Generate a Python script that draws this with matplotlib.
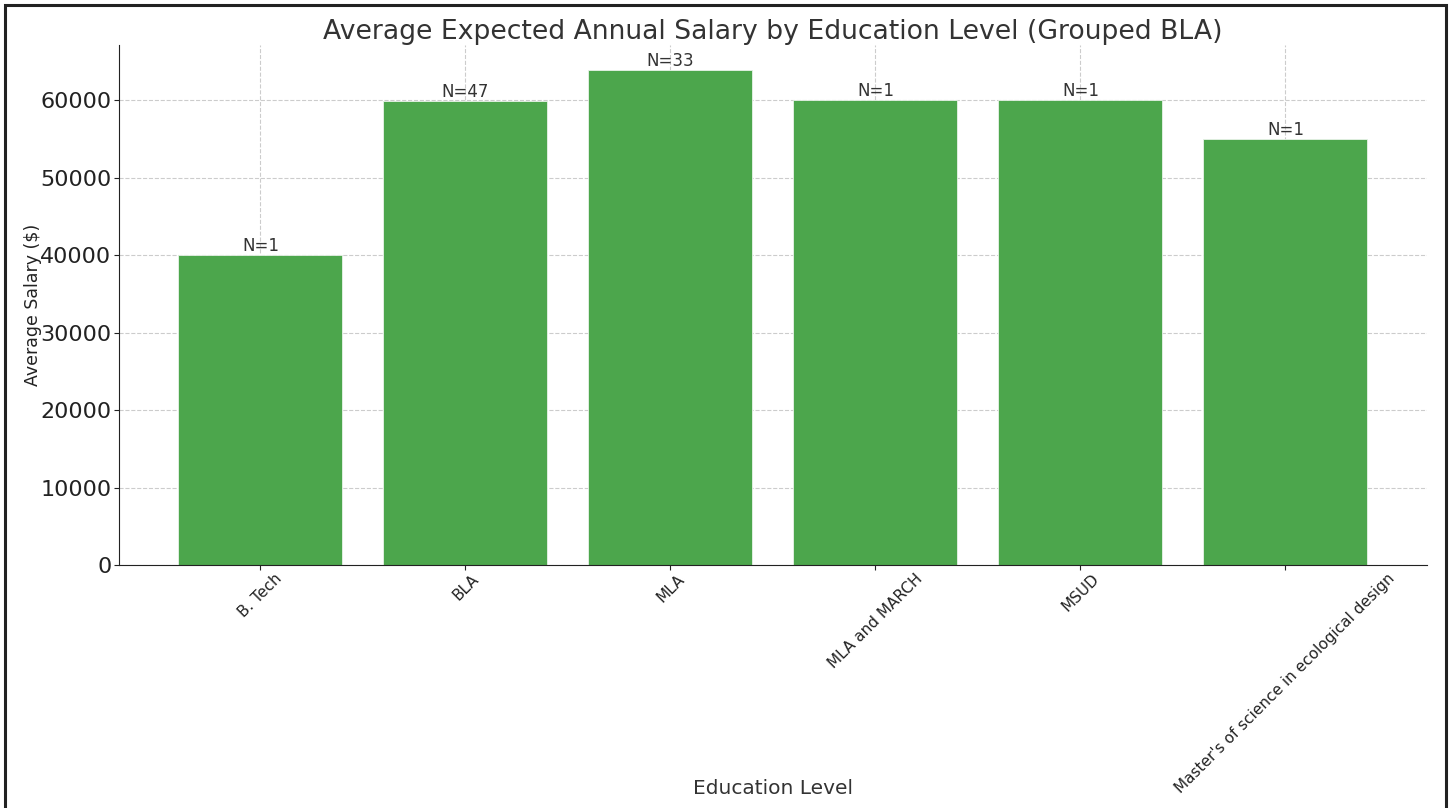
import matplotlib
matplotlib.use("Agg")
import matplotlib.pyplot as plt
from matplotlib.patches import Rectangle

categories = ["B. Tech", "BLA", "MLA", "MLA and MARCH", "MSUD",
              "Master's of science in ecological design"]
salaries = [40000, 59850, 63900, 60000, 60000, 55000]
counts = [1, 47, 33, 1, 1, 1]

fig = plt.figure(figsize=(14.5, 8.08), dpi=100)
ax = fig.add_axes([0.0821, 0.3007, 0.902, 0.6436])

text_color = "#333333"
bars = ax.bar(range(len(categories)), salaries, width=0.8, color="#4CA64C",
              edgecolor="#E8F3E8", linewidth=0.6, zorder=2)
for b, n in zip(bars, counts):
    ax.text(b.get_x() + b.get_width() / 2, b.get_height(), f"N={n}",
            ha="center", va="bottom", fontsize=12, color=text_color, zorder=3)

ax.set_xticks(range(len(categories)))
ax.set_xticklabels(categories, rotation=45, ha="center", fontsize=11,
                   color="#222222", rotation_mode="default")
ax.tick_params(axis="y", labelsize=16, colors="#222222", pad=2)
ax.tick_params(axis="x", colors="#222222", pad=1)
ax.grid(True, linestyle="--", color="#cccccc", linewidth=0.8, zorder=0)
ax.set_axisbelow(True)
for s in ["top", "right"]:
    ax.spines[s].set_visible(False)
for s in ["left", "bottom"]:
    ax.spines[s].set_color("#222222")

ax.set_title("Average Expected Annual Salary by Education Level (Grouped BLA)",
             fontsize=19.2, color=text_color, pad=4)
ax.set_xlabel("Education Level", fontsize=14.5, color=text_color)
ax.set_ylabel("Average Salary ($)", fontsize=12.5, color="#222222")

ax.xaxis.set_label_coords(773 / 1450, 1 - 788 / 808, transform=fig.transFigure)
ax.xaxis.label.set_verticalalignment("center")
ax.yaxis.set_label_coords(33 / 1450, 1 - 305 / 808, transform=fig.transFigure)
ax.yaxis.label.set_verticalalignment("center")

fig.patches.append(Rectangle((5 / 1450, -0.02), 1441 / 1450, 1 - 5 / 808 + 0.02,
                             transform=fig.transFigure, fill=False,
                             edgecolor="#222222", linewidth=2.2, zorder=10))

fig.savefig("out.png", dpi=100)
